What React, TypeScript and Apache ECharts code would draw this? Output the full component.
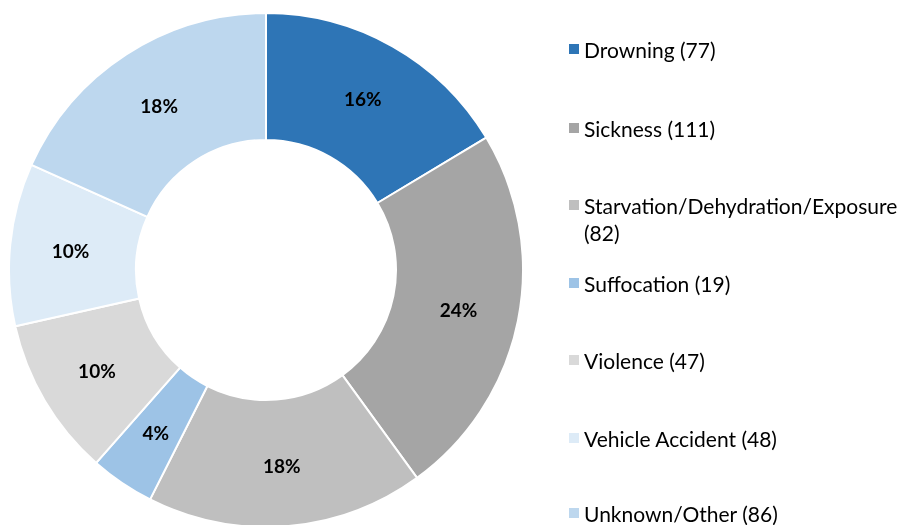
import React, { useEffect, useRef } from "react";
import * as echarts from "echarts";

const categories = [
  "Drowning",
  "Sickness",
  "Starvation/Dehydration/Exposure",
  "Suffocation",
  "Violence",
  "Vehicle Accident",
  "Unknown/Other",
];
const values = [77, 111, 82, 19, 47, 48, 86];
const colors = ["#2E75B6", "#A5A5A5", "#BFBFBF", "#9DC3E6", "#D9D9D9", "#DDEBF7", "#BDD7EE"];
const legendCenters = [49, 128, 205, 283, 360, 438, 513];
const wrapIndex = 2;

const FONT = "Lato, 'Noto Sans', sans-serif";

export default function App() {
  const ref = useRef<HTMLDivElement>(null);
  useEffect(() => {
    if (!ref.current) return;
    const chart = echarts.init(ref.current, null, { renderer: "svg" });
    const legends = categories.map((name, i) => ({
      data: [name],
      left: 567,
      top: legendCenters[i] - 11,
      orient: "vertical",
      icon: "rect",
      itemWidth: 12,
      itemHeight: 12,
      itemGap: 0,
      selectedMode: false,
      padding: 0,
      formatter: (n: string) =>
        i === wrapIndex ? n : `${n} (${values[categories.indexOf(n)]})`,
      textStyle: {
        fontFamily: FONT,
        fontSize: 21,
        color: "#000",
        lineHeight: 22,
        padding: [0, 0, 0, -1],
      },
    }));
    chart.setOption({
      animation: false,
      color: colors,
      legend: legends,
      graphic: [
        {
          type: "text",
          left: 584,
          top: legendCenters[wrapIndex] + 27 - 11,
          style: {
            text: `(${values[wrapIndex]})`,
            font: `21px ${FONT}`,
            fill: "#000",
            lineHeight: 22,
          },
        },
      ],
      series: [
        {
          type: "pie",
          center: [266, 270],
          radius: [130, 257],
          startAngle: 90,
          clockwise: true,
          percentPrecision: 0,
          itemStyle: { borderColor: "#fff", borderWidth: 2 },
          label: {
            show: true,
            position: "inside",
            formatter: "{d}%",
            fontFamily: FONT,
            fontWeight: "bold",
            fontSize: 19,
            color: "#000",
          },
          labelLine: { show: false },
          emphasis: { disabled: true },
          data: categories.map((name, i) => ({ name, value: values[i] })),
        },
      ],
    });
    return () => chart.dispose();
  }, []);
  return (
    <div
      ref={ref}
      style={{ position: "fixed", left: 0, top: 0, width: 899, height: 525 }}
    />
  );
}
